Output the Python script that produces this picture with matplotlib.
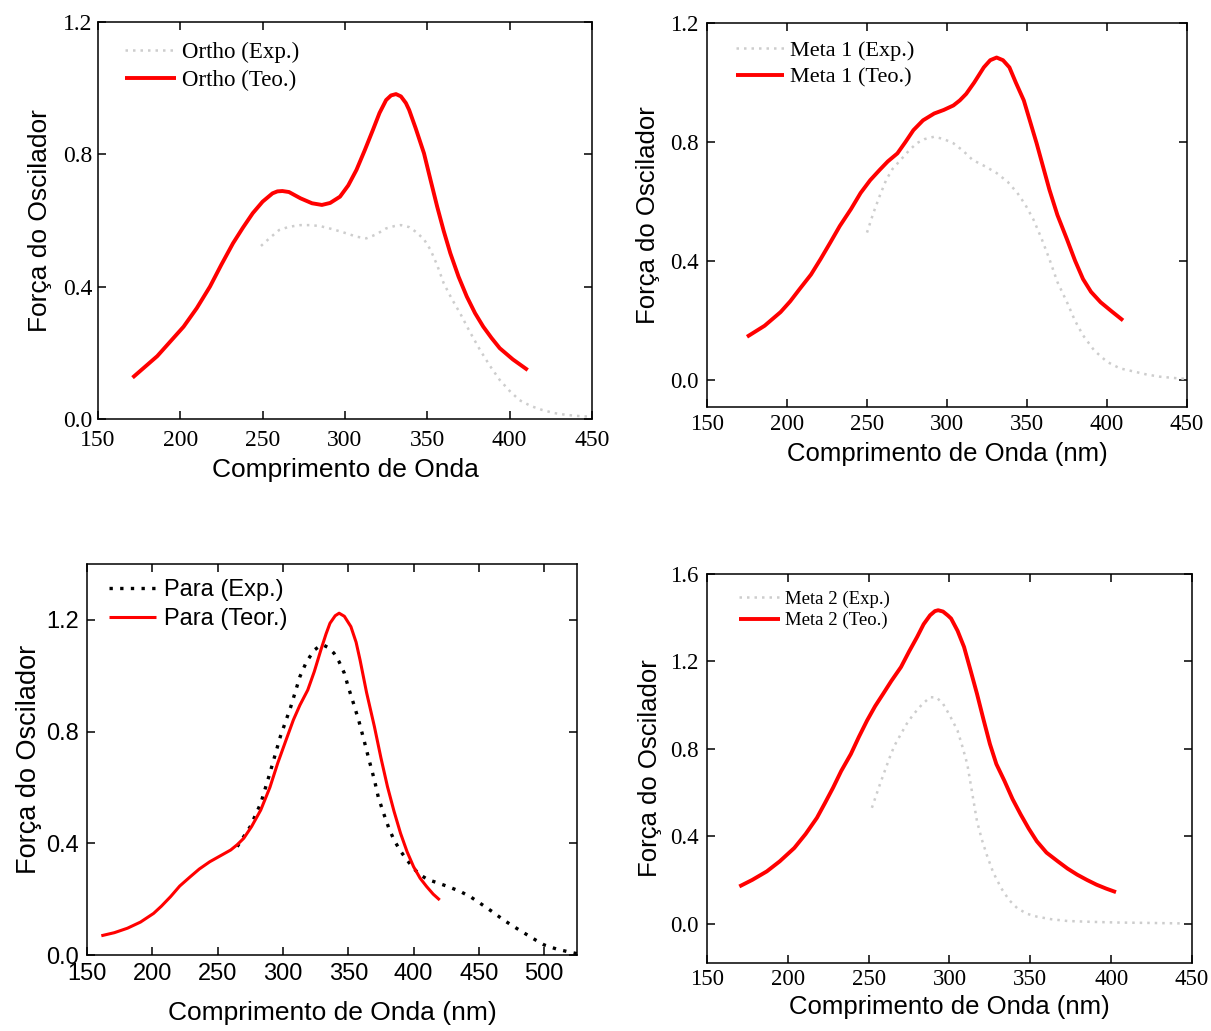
import matplotlib
matplotlib.use("Agg")
import matplotlib.pyplot as plt

# ---- data (wavelength in nm, oscillator strength) ----
ortho_teo_x = [171, 186, 202, 210, 218, 225, 232, 238, 244, 250, 256, 259, 262, 266,
               273, 280, 286, 291, 297, 302, 307, 312, 317, 321, 325, 328, 331, 334,
               337, 339, 343, 348, 352, 356, 360, 364, 369, 374, 379, 384, 389, 394,
               402, 411]
ortho_teo_y = [0.125, 0.19, 0.279, 0.335, 0.40, 0.467, 0.531, 0.578, 0.622, 0.657,
               0.682, 0.688, 0.689, 0.686, 0.667, 0.652, 0.647, 0.653, 0.672, 0.706,
               0.753, 0.812, 0.874, 0.925, 0.964, 0.978, 0.982, 0.975, 0.955, 0.934,
               0.878, 0.803, 0.722, 0.642, 0.568, 0.501, 0.43, 0.370, 0.32, 0.279,
               0.245, 0.214, 0.18, 0.148]
ortho_exp_x = [249, 255, 260, 266, 273, 279, 285, 293, 301, 307, 313, 319, 325, 330,
               334, 339, 343, 348, 352, 356, 360, 365, 370, 376, 382, 388, 394, 400,
               406, 413, 420, 427, 435, 442, 449]
ortho_exp_y = [0.523, 0.55, 0.571, 0.581, 0.586, 0.586, 0.583, 0.573, 0.561, 0.551,
               0.546, 0.558, 0.576, 0.583, 0.586, 0.58, 0.566, 0.543, 0.511, 0.465,
               0.41, 0.362, 0.319, 0.262, 0.209, 0.161, 0.118, 0.085, 0.057, 0.039,
               0.027, 0.018, 0.012, 0.009, 0.007]

meta1_teo_x = [175, 186, 196, 202, 208, 215, 221, 227, 233, 240, 246, 252, 258, 263,
               269, 274, 279, 285, 292, 298, 304, 308, 312, 317, 323, 327, 331, 335,
               339, 343, 348, 352, 356, 360, 364, 369, 375, 380, 385, 390, 396, 403,
               410]
meta1_teo_y = [0.146, 0.183, 0.229, 0.265, 0.307, 0.355, 0.407, 0.462, 0.518, 0.575,
               0.629, 0.672, 0.707, 0.735, 0.762, 0.8, 0.84, 0.873, 0.896, 0.908,
               0.923, 0.94, 0.962, 1.0, 1.051, 1.075, 1.084, 1.075, 1.051, 1.0, 0.94,
               0.868, 0.796, 0.718, 0.64, 0.555, 0.473, 0.402, 0.34, 0.297, 0.262,
               0.231, 0.201]
meta1_exp_x = [250, 254, 258, 262, 266, 271, 276, 281, 286, 292, 298, 304, 310, 316,
               324, 331, 338, 344, 349, 354, 359, 364, 369, 375, 380, 385, 392, 400,
               408, 417, 425, 433, 441, 450]
meta1_exp_y = [0.496, 0.562, 0.62, 0.673, 0.71, 0.74, 0.77, 0.796, 0.81, 0.818, 0.81,
               0.796, 0.771, 0.74, 0.718, 0.696, 0.666, 0.629, 0.589, 0.54, 0.477,
               0.407, 0.33, 0.262, 0.2, 0.151, 0.1, 0.062, 0.04, 0.029, 0.019, 0.012,
               0.008, 0.004]

para_teo_x = [161, 171, 181, 191, 201, 207, 214, 221, 229, 236, 244, 252, 260, 265,
              270, 276, 283, 290, 296, 302, 308, 313, 319, 324, 329, 333, 336, 340,
              343, 347, 352, 356, 359, 364, 370, 375, 380, 385, 390, 395, 400, 405,
              410, 415, 420]
para_teo_y = [0.069, 0.08, 0.096, 0.118, 0.149, 0.175, 0.209, 0.247, 0.28, 0.308,
              0.334, 0.355, 0.376, 0.395, 0.418, 0.46, 0.519, 0.6, 0.687, 0.765,
              0.842, 0.895, 0.949, 1.015, 1.092, 1.15, 1.188, 1.215, 1.224, 1.213,
              1.176, 1.12, 1.057, 0.94, 0.818, 0.706, 0.603, 0.515, 0.436, 0.37, 0.316,
              0.275, 0.245, 0.218, 0.197]
para_exp_x = [265, 275, 283, 290, 298, 306, 313, 318, 324, 328, 331, 335, 339, 343,
              347, 350, 354, 358, 362, 366, 370, 373, 377, 381, 385, 390, 395, 400,
              405, 411, 418, 427, 436, 444, 451, 460, 469, 478, 487, 494, 500, 509,
              518, 525]
para_exp_y = [0.388, 0.46, 0.543, 0.651, 0.782, 0.889, 0.997, 1.05, 1.092, 1.106, 1.11,
              1.1, 1.081, 1.05, 1.009, 0.96, 0.901, 0.84, 0.77, 0.697, 0.627, 0.565,
              0.508, 0.455, 0.412, 0.372, 0.34, 0.31, 0.287, 0.27, 0.259, 0.244, 0.227,
              0.207, 0.185, 0.156, 0.125, 0.098, 0.072, 0.052, 0.036, 0.022, 0.012,
              0.005]

meta2_teo_x = [170, 178, 187, 195, 204, 211, 218, 223, 228, 233, 239, 244, 249, 254,
               259, 264, 270, 275, 280, 284, 288, 291, 293, 296, 299, 301, 305, 309,
               313, 317, 321, 325, 329, 334, 339, 344, 349, 354, 360, 367, 373, 379,
               385, 391, 397, 403]
meta2_teo_y = [0.170, 0.2, 0.239, 0.285, 0.346, 0.41, 0.484, 0.552, 0.622, 0.698,
               0.776, 0.855, 0.929, 0.995, 1.052, 1.11, 1.174, 1.245, 1.312, 1.37,
               1.411, 1.43, 1.434, 1.428, 1.41, 1.396, 1.34, 1.266, 1.16, 1.052, 0.935,
               0.822, 0.73, 0.653, 0.57, 0.50, 0.435, 0.377, 0.325, 0.285, 0.252, 0.224,
               0.2, 0.178, 0.16, 0.144]
meta2_exp_x = [252, 257, 263, 266, 270, 274, 278, 283, 288, 292, 296, 300, 305, 308,
               311, 314, 317, 320, 323, 327, 332, 337, 342, 348, 354, 363, 373, 388,
               404, 425, 443]
meta2_exp_y = [0.53, 0.638, 0.76, 0.815, 0.868, 0.92, 0.96, 1.003, 1.036, 1.035,
               1.006, 0.955, 0.883, 0.81, 0.73, 0.6, 0.469, 0.385, 0.316, 0.235, 0.162,
               0.107, 0.07, 0.045, 0.032, 0.02, 0.012, 0.008, 0.005, 0.003, 0.001]

SERIF = "Liberation Serif"
SANS = "Liberation Sans"
GRAY = "#cdcdcd"


def style_axes(ax, xlim, ylim, xticks, yticks, tick_font, tick_size, xpad, ypad):
    ax.set_xlim(*xlim)
    ax.set_ylim(*ylim)
    ax.set_xticks(xticks)
    ax.set_yticks(yticks)
    ax.set_yticklabels(["%.1f" % v for v in yticks])
    ax.tick_params(direction="in", top=True, right=True, length=6, width=1.1)
    ax.tick_params(axis="x", pad=xpad)
    ax.tick_params(axis="y", pad=ypad)
    for lab in ax.get_xticklabels() + ax.get_yticklabels():
        lab.set_fontfamily(tick_font)
        lab.set_fontsize(tick_size)
    for s in ax.spines.values():
        s.set_linewidth(1.1)


def draw(ax, ex, ey, tx, ty, exp_style, teo_style, labels):
    ax.plot(ex, ey, label=labels[0], solid_joinstyle="round", **exp_style)
    ax.plot(tx, ty, label=labels[1], solid_joinstyle="round",
            solid_capstyle="butt", **teo_style)


gray_dots = dict(color=GRAY, lw=1.8, ls=(0, (1, 2)))
red_thick = dict(color="red", lw=2.8)

fig = plt.figure(figsize=(12.11, 10.31), dpi=100)

# --- top left: Ortho ---
ax1 = fig.add_axes([0.0809, 0.5936, 0.4079, 0.3851])
draw(ax1, ortho_exp_x, ortho_exp_y, ortho_teo_x, ortho_teo_y, gray_dots, red_thick,
     ["Ortho (Exp.)", "Ortho (Teo.)"])
style_axes(ax1, (150, 450), (0, 1.2), range(150, 451, 50), [0, 0.4, 0.8, 1.2],
           SERIF, 17, 8, 4)
ax1.set_xlabel("Comprimento de Onda", family=SANS, fontsize=19, labelpad=5)
ax1.set_ylabel("Força do Oscilador", family=SANS, fontsize=19, labelpad=8)
ax1.legend(loc="upper left", bbox_to_anchor=(0.055, 0.95), frameon=False, borderpad=0,
           borderaxespad=0, handlelength=2.2, handletextpad=0.3, labelspacing=0.3,
           prop={"family": SERIF, "size": 16.5})

# --- top right: Meta 1 ---
ax2 = fig.add_axes([0.5838, 0.6052, 0.3964, 0.3725])
draw(ax2, meta1_exp_x, meta1_exp_y, meta1_teo_x, meta1_teo_y, gray_dots, red_thick,
     ["Meta 1 (Exp.)", "Meta 1 (Teo.)"])
style_axes(ax2, (150, 450), (-0.09, 1.2), range(150, 451, 50), [0, 0.4, 0.8, 1.2],
           SERIF, 16.5, 5, 6)
ax2.set_xlabel("Comprimento de Onda (nm)", family=SANS, fontsize=18.5, labelpad=5)
ax2.set_ylabel("Força do Oscilador", family=SANS, fontsize=18.5, labelpad=7)
ax2.legend(loc="upper left", bbox_to_anchor=(0.06, 0.955), frameon=False, borderpad=0,
           borderaxespad=0, handlelength=2.15, handletextpad=0.3, labelspacing=0.28,
           prop={"family": SERIF, "size": 16})

# --- bottom left: Para ---
ax3 = fig.add_axes([0.0718, 0.0737, 0.4046, 0.3792])
draw(ax3, para_exp_x, para_exp_y, para_teo_x, para_teo_y,
     dict(color="black", lw=2.4, ls=(0, (1, 2.2))), dict(color="red", lw=2.2),
     ["Para (Exp.)", "Para (Teor.)"])
style_axes(ax3, (150, 525), (0, 1.4), range(150, 501, 50), [0, 0.4, 0.8, 1.2],
           SANS, 17, 6, 6)
ax3.set_xlabel("Comprimento de Onda (nm)", family=SANS, fontsize=19, labelpad=11)
ax3.set_ylabel("Força do Oscilador", family=SANS, fontsize=19.5, labelpad=3)
ax3.legend(loc="upper left", bbox_to_anchor=(0.045, 0.962), frameon=False, borderpad=0,
           borderaxespad=0, handlelength=2.0, handletextpad=0.35, labelspacing=0.3,
           prop={"family": SANS, "size": 17})

# --- bottom right: Meta 2 ---
ax4 = fig.add_axes([0.5838, 0.0660, 0.4005, 0.3773])
draw(ax4, meta2_exp_x, meta2_exp_y, meta2_teo_x, meta2_teo_y, gray_dots, red_thick,
     ["Meta 2 (Exp.)", "Meta 2 (Teo.)"])
style_axes(ax4, (150, 450), (-0.18, 1.6), range(150, 451, 50),
           [0, 0.4, 0.8, 1.2, 1.6], SERIF, 16.5, 4, 6)
ax4.set_xlabel("Comprimento de Onda (nm)", family=SANS, fontsize=18.5, labelpad=4)
ax4.set_ylabel("Força do Oscilador", family=SANS, fontsize=18.5, labelpad=6)
ax4.legend(loc="upper left", bbox_to_anchor=(0.065, 0.957), frameon=False, borderpad=0,
           borderaxespad=0, handlelength=2.2, handletextpad=0.3, labelspacing=0.22,
           prop={"family": SERIF, "size": 13.5})

fig.savefig("out.png", dpi=100)
